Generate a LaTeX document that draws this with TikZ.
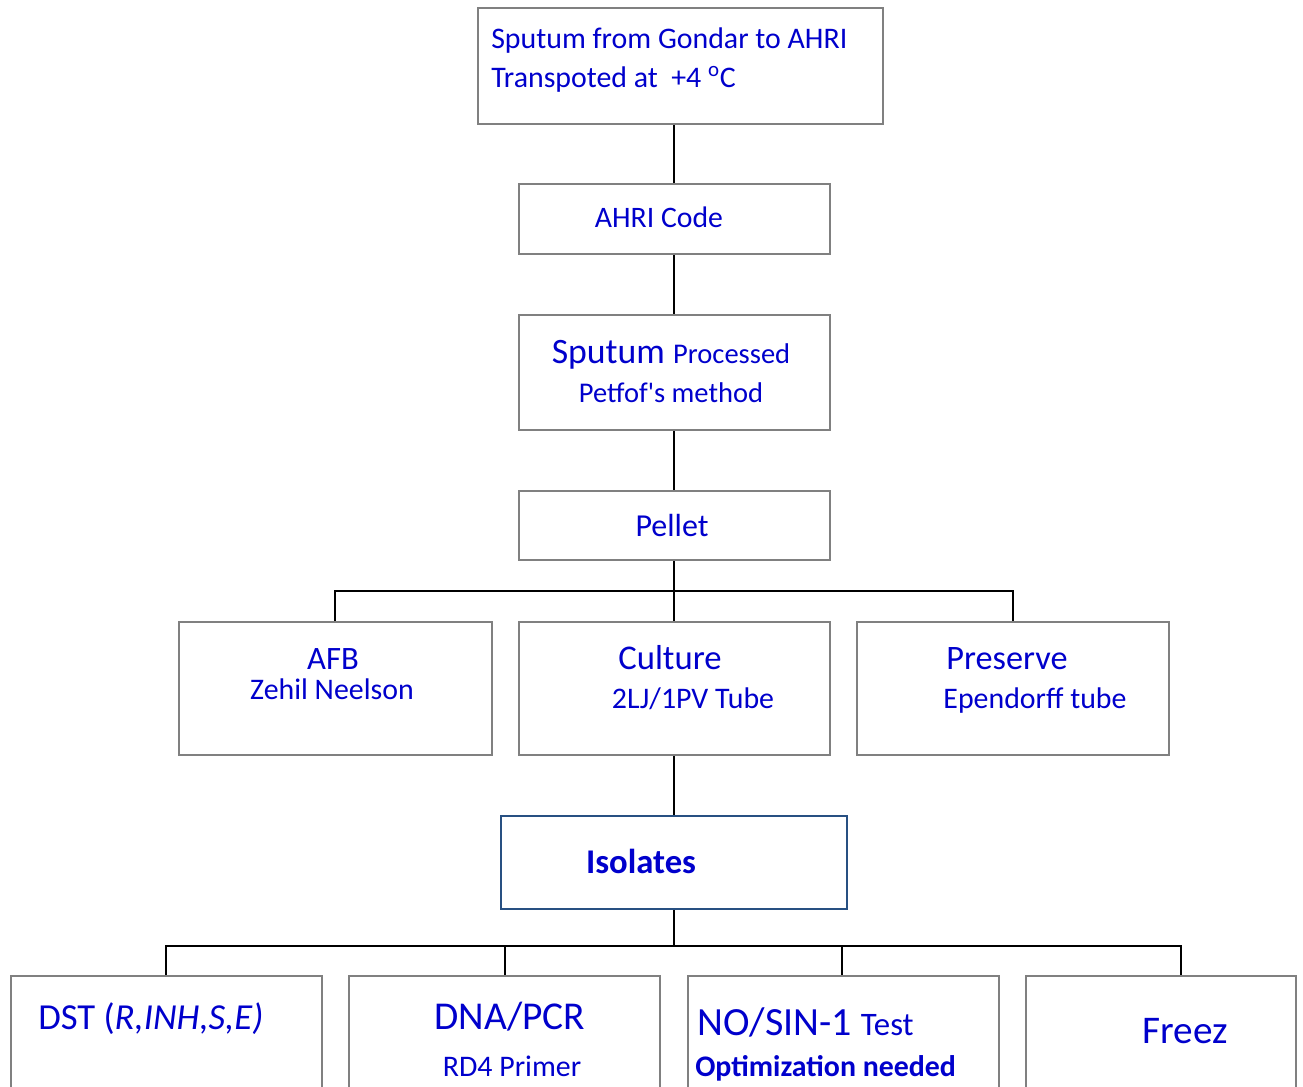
\documentclass[tikz,border=0pt]{standalone}
\usepackage{fontspec}
\setmainfont{Carlito}
\usetikzlibrary{fit}
\definecolor{txtblue}{RGB}{0,0,204}
\definecolor{boxgray}{RGB}{128,128,128}
\definecolor{isoblue}{RGB}{40,80,130}
\newcommand{\fs}[1]{\fontsize{#1}{#1}\selectfont}
\begin{document}
\begin{tikzpicture}[x=0.75pt,y=-0.75pt,
  box/.style={draw=boxgray,line width=1.6pt,inner sep=0pt,fill=white},
  isobox/.style={draw=isoblue,line width=1.9pt,inner sep=0pt,fill=white},
  txt/.style={text=txtblue,inner sep=0pt,anchor=base},
  txtl/.style={text=txtblue,inner sep=0pt,anchor=base west},
  conn/.style={draw=black,line width=1.2pt}]
\useasboundingbox (0,0) rectangle (1303,1086);
\clip (0,0) rectangle (1303,1086);
% boxes
\node[box,fit={(478,8)(883,124)}] (top) {};
\node[box,fit={(519,184)(830,254)}] (code) {};
\node[box,fit={(519,315)(830,430)}] (proc) {};
\node[box,fit={(519,491)(830,560)}] (pellet) {};
\node[box,fit={(179,622)(492,755)}] (afb) {};
\node[box,fit={(519,622)(830,755)}] (culture) {};
\node[box,fit={(857,622)(1169,755)}] (preserve) {};
\node[isobox,fit={(501,816)(847,909)}] (iso) {};
\node[box,fit={(11,976)(322,1100)}] (dst) {};
\node[box,fit={(349,976)(660,1100)}] (dna) {};
\node[box,fit={(688,976)(999,1100)}] (nosin) {};
\node[box,fit={(1026,976)(1296,1100)}] (freez) {};
% junction coordinates
\coordinate (j1) at (674,591);
\coordinate (j2) at (674,946);
% connectors
\draw[conn] (top.south -| 674,0) -- (code.north -| 674,0);
\draw[conn] (code.south -| 674,0) -- (proc.north -| 674,0);
\draw[conn] (proc.south -| 674,0) -- (pellet.north -| 674,0);
\draw[conn] (pellet.south -| 674,0) -- (j1);
\draw[conn] (j1) -- (culture.north -| 674,0);
\draw[conn] (j1) -| (afb.north -| 335,0);
\draw[conn] (j1) -| (preserve.north -| 1013,0);
\draw[conn] (culture.south -| 674,0) -- (iso.north -| 674,0);
\draw[conn] (iso.south -| 674,0) -- (j2);
\draw[conn] (j2) -| (dst.north -| 166,0);
\draw[conn] (j2) -| (dna.north -| 505,0);
\draw[conn] (j2) -| (nosin.north -| 842,0);
\draw[conn] (j2) -| (freez.north -| 1181,0);
% texts
\node[txtl] (t1) at (491,48) {\fs{22.4}Sputum from Gondar to AHRI};
\node[txtl] (t2) at (491,87) {\fs{22.4}Transpoted at~ +4 \textsuperscript{o}C};
\node[txt] (t3) at (659,227) {\fs{22.3}AHRI Code};
\node[txt] (t4) at (671,363) {\fs{26.8}Sputum \fs{21.4}Processed};
\node[txt] (t5) at (671,402) {\fs{21.4}Petfof\textquotesingle s method};
\node[txt] (t6) at (672,536) {\fs{24}Pellet};
\node[txt] (t7) at (333,669) {\fs{24.5}AFB};
\node[txt] (t8) at (332,699) {\fs{22.4}Zehil Neelson};
\node[txt] (t9) at (670,669) {\fs{26}Culture};
\node[txt] (t10) at (693,708) {\fs{22.4}2LJ/1PV Tube};
\node[txt] (t11) at (1007,669) {\fs{25.7}Preserve};
\node[txt] (t12) at (1035,708) {\fs{22.4}Ependorff tube};
\node[txt] (t13) at (641,873) {\fs{26}\bfseries Isolates};
\node[txtl] (t14) at (38,1029) {\fs{27.5}DST (\textit{R,INH,S,E)}};
\node[txt] (t15) at (510,1029) {\fs{29.6}DNA/PCR};
\node[txt] (t16) at (512,1076) {\fs{22.4}RD4 Primer};
\node[txtl] (t17) at (697,1035) {\fs{30}NO/SIN-1 \fs{24.6}Test};
\node[txtl] (t18) at (695,1076) {\fs{22.4}\bfseries Optimization needed};
\node[txt] (t19) at (1185,1043) {\fs{29.4}Freez};
\end{tikzpicture}
\end{document}
